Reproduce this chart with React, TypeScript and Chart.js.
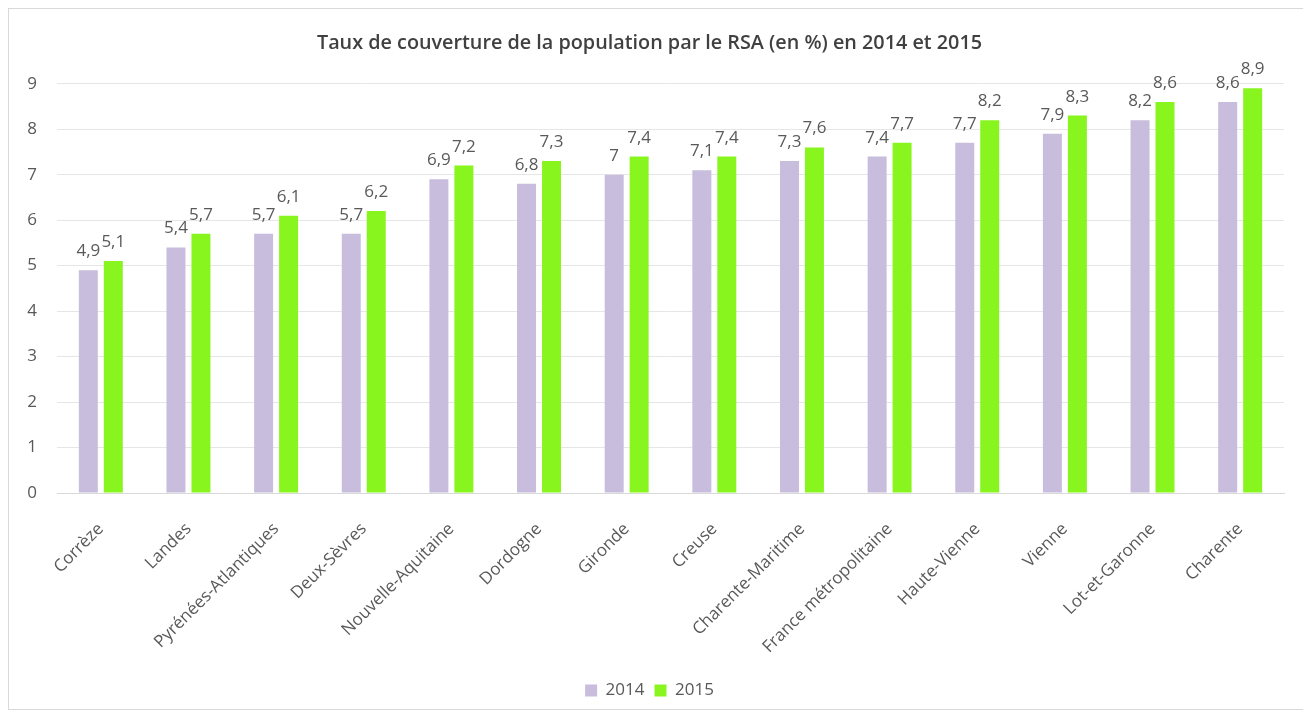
import React, { useEffect, useRef } from "react";
import { Chart, registerables } from "chart.js";

Chart.register(...registerables);

const categories = [
  "Corrèze",
  "Landes",
  "Pyrénées-Atlantiques",
  "Deux-Sèvres",
  "Nouvelle-Aquitaine",
  "Dordogne",
  "Gironde",
  "Creuse",
  "Charente-Maritime",
  "France métropolitaine",
  "Haute-Vienne",
  "Vienne",
  "Lot-et-Garonne",
  "Charente",
];
const values2014 = [4.9, 5.4, 5.7, 5.7, 6.9, 6.8, 7, 7.1, 7.3, 7.4, 7.7, 7.9, 8.2, 8.6];
const values2015 = [5.1, 5.7, 6.1, 6.2, 7.2, 7.3, 7.4, 7.4, 7.6, 7.7, 8.2, 8.3, 8.6, 8.9];
const yTicks = [0, 1, 2, 3, 4, 5, 6, 7, 8, 9];
const seriesNames = ["2014", "2015"];

const FONT = "'Open Sans', 'Noto Sans', sans-serif";

const labelPlugin = {
  id: "barLabels",
  afterDatasetsDraw(chart: any) {
    const ctx = chart.ctx;
    ctx.save();
    ctx.font = `17px ${FONT}`;
    ctx.fillStyle = "#595959";
    ctx.textAlign = "center";
    ctx.textBaseline = "alphabetic";
    chart.data.datasets.forEach((ds: any, di: number) => {
      const meta = chart.getDatasetMeta(di);
      meta.data.forEach((el: any, i: number) => {
        const v = ds.data[i];
        const txt = String(v).replace(".", ",");
        ctx.fillText(txt, el.x, el.y - 14);
      });
    });
    ctx.restore();
  },
};

export default function App() {
  const ref = useRef<HTMLCanvasElement>(null);
  useEffect(() => {
    if (!ref.current) return;
    const chart = new Chart(ref.current, {
      type: "bar",
      data: {
        labels: categories,
        datasets: [
          {
            label: seriesNames[0],
            data: values2014,
            backgroundColor: "#c8bddc",
            barPercentage: 0.76,
            categoryPercentage: 0.57,
          },
          {
            label: seriesNames[1],
            data: values2015,
            backgroundColor: "#88f51f",
            barPercentage: 0.76,
            categoryPercentage: 0.57,
          },
        ],
      },
      options: {
        animation: false,
        responsive: false,
        layout: { padding: { left: 6, right: 20, top: 0, bottom: 0 } },
        plugins: {
          title: {
            display: true,
            text: "Taux de couverture de la population par le RSA (en %) en 2014 et 2015",
            color: "#404040",
            font: { family: FONT, size: 19.8, weight: "600" },
            padding: { top: 22, bottom: 29 },
          },
          legend: {
            position: "bottom",
            labels: {
              color: "#595959",
              font: { family: FONT, size: 17 },
              boxWidth: 12,
              boxHeight: 12,
              padding: 10,
            },
          },
          tooltip: { enabled: false },
        },
        scales: {
          x: {
            grid: { display: false },
            border: { color: "#d9d9d9" },
            afterFit(scale: any) {
              scale.height = 179;
            },
            ticks: {
              color: "#595959",
              font: { family: FONT, size: 17 },
              maxRotation: 45,
              minRotation: 45,
              padding: 18,
            },
          },
          y: {
            min: 0,
            max: 9,
            afterBuildTicks(scale: any) {
              scale.ticks = yTicks.map((v) => ({ value: v }));
            },
            afterFit(scale: any) {
              scale.width = 42;
            },
            grid: { color: "#e6e6e6", drawTicks: false },
            border: { display: false },
            ticks: {
              color: "#595959",
              font: { family: FONT, size: 17 },
              padding: 20,
            },
          },
        },
      },
      plugins: [labelPlugin],
    });
    return () => chart.destroy();
  }, []);
  return (
    <div
      style={{
        width: 1297,
        height: 702,
        border: "1px solid #d9d9d9",
        boxSizing: "border-box",
        background: "#fff",
      }}
    >
      <canvas ref={ref} width={1295} height={700} style={{ display: "block" }} />
    </div>
  );
}
